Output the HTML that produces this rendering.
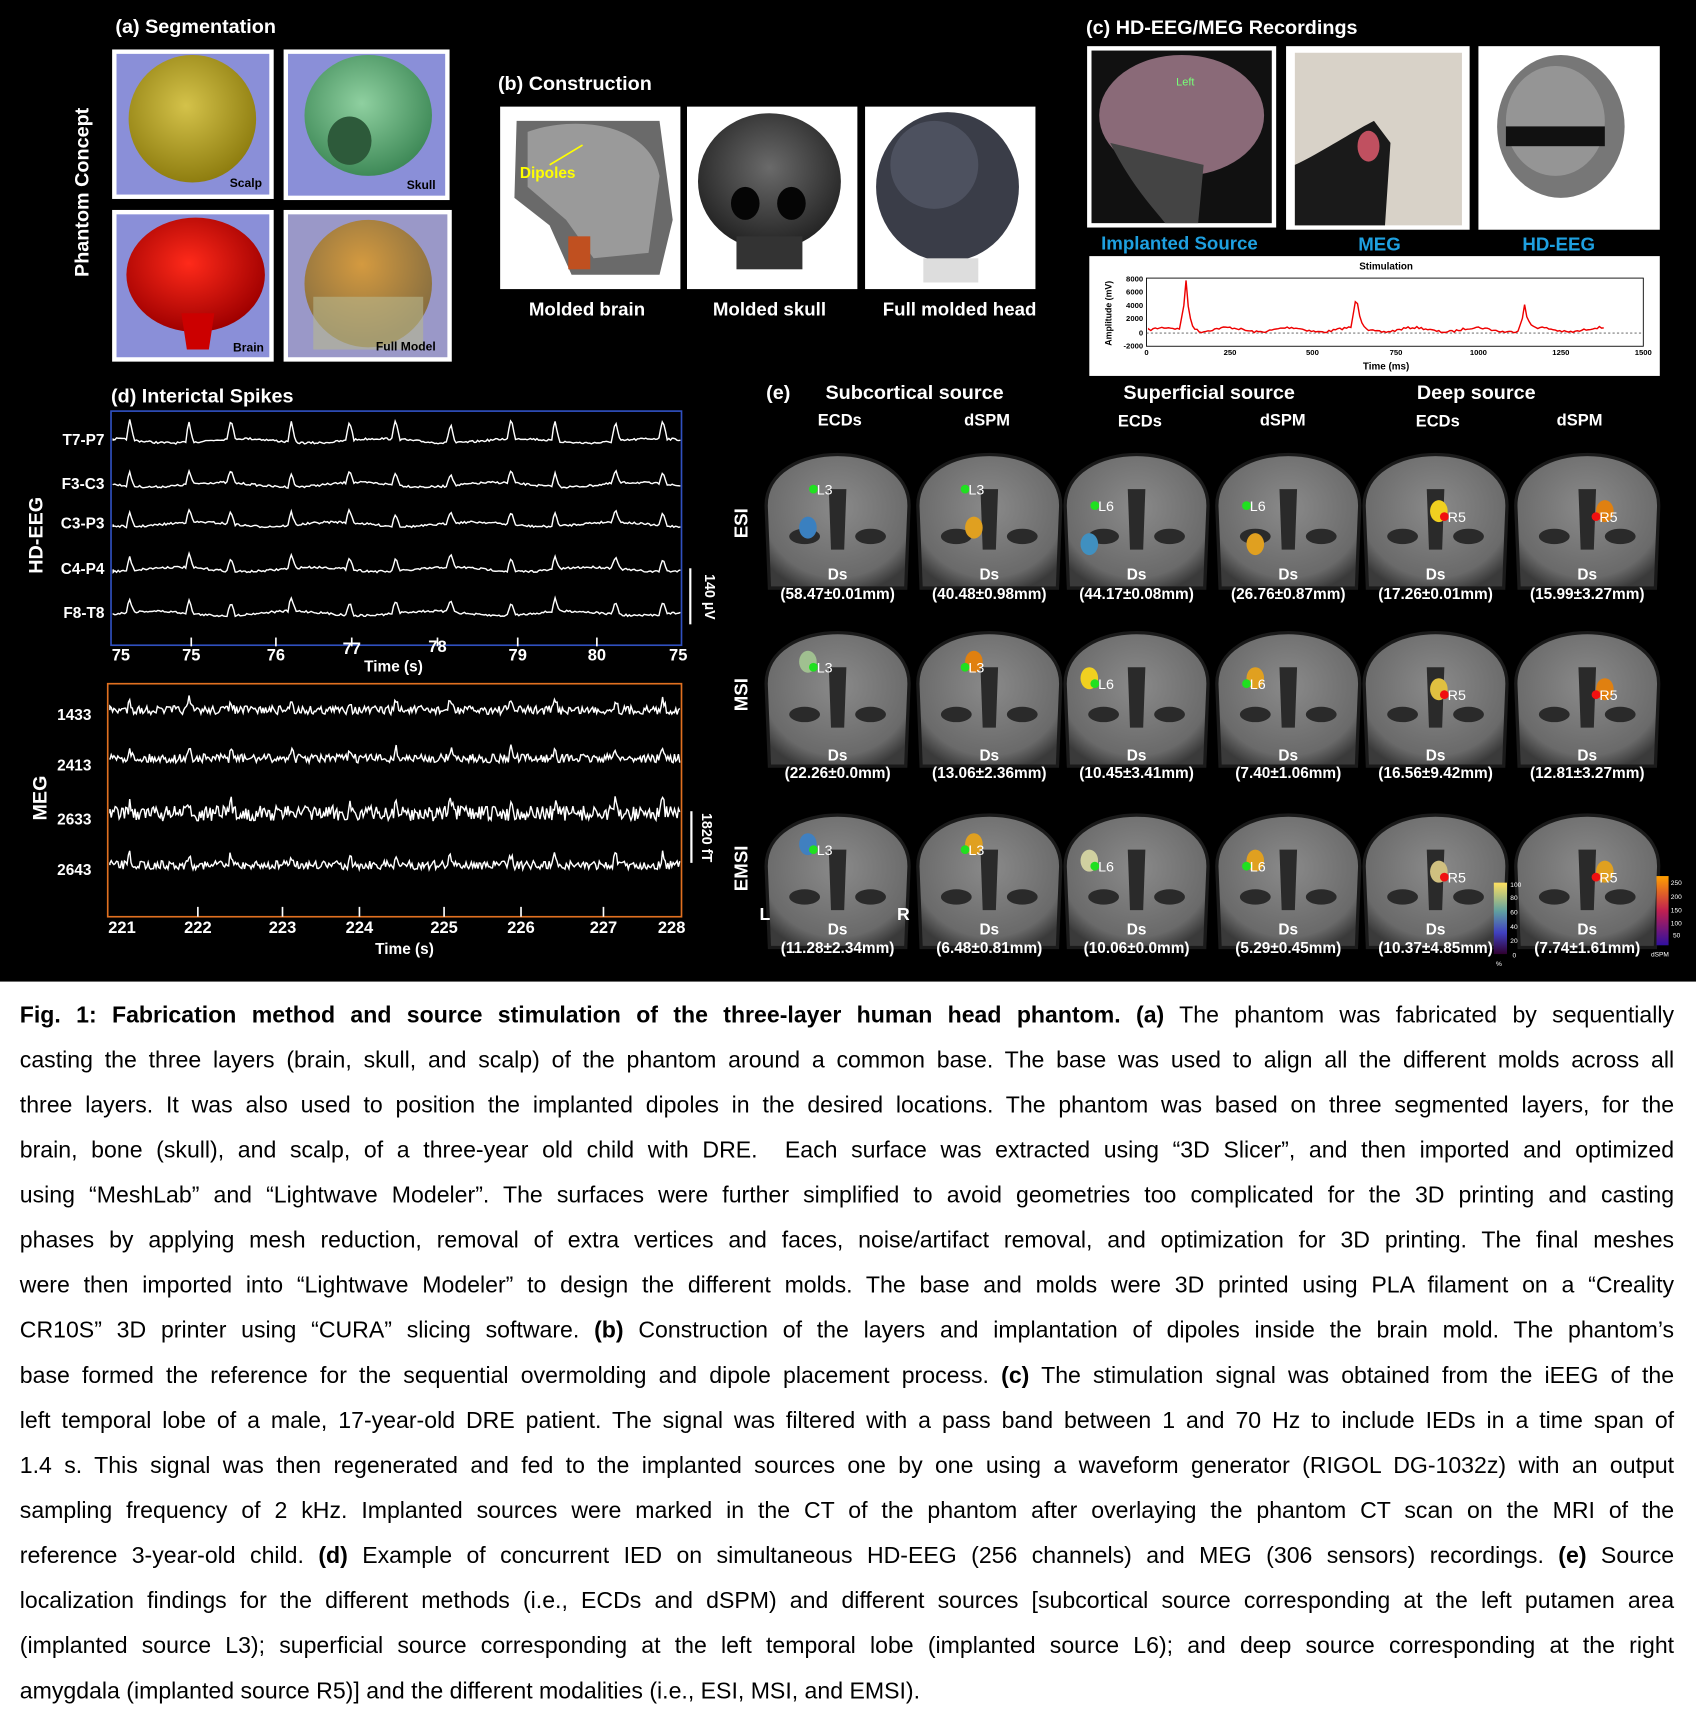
<!DOCTYPE html>
<html><head><meta charset="utf-8">
<style>
html,body{margin:0;padding:0;background:#fff;}
body{width:1696px;height:1723px;overflow:hidden;position:relative;}
#w{position:absolute;left:0;top:0;width:1543px;height:1568px;transform:scale(1.0992);transform-origin:0 0;font-family:"Liberation Sans",Arial,sans-serif;}
#blk{position:absolute;left:0;top:0;width:1543px;height:893px;background:#000;}
.t{position:absolute;color:#fff;font-weight:bold;white-space:nowrap;}
.c{transform:translateX(-50%);}
.cap{position:absolute;left:18px;top:903px;width:1505px;font-size:21px;color:#000;}
.cap div{height:41px;line-height:41px;text-align:justify;text-align-last:justify;white-space:nowrap;}
.cap div.l{text-align-last:left;}
</style></head><body>
<div id="w">
<div id="blk"></div>
<svg id="sv" width="1543" height="893" style="position:absolute;left:0;top:0">
<defs>
<radialGradient id="sc" cx="45%" cy="40%" r="60%"><stop offset="0" stop-color="#d4c24a"/><stop offset="1" stop-color="#8f7e10"/></radialGradient>
<radialGradient id="sk" cx="45%" cy="40%" r="60%"><stop offset="0" stop-color="#8fd0a0"/><stop offset="1" stop-color="#3f8a58"/></radialGradient>
<radialGradient id="br" cx="45%" cy="40%" r="60%"><stop offset="0" stop-color="#ff2a1a"/><stop offset="1" stop-color="#a00000"/></radialGradient>
<radialGradient id="fm" cx="45%" cy="35%" r="60%"><stop offset="0" stop-color="#d49a40"/><stop offset="1" stop-color="#8a7040"/></radialGradient>
<radialGradient id="gr" cx="50%" cy="40%" r="60%"><stop offset="0" stop-color="#6a6a6a"/><stop offset="1" stop-color="#222"/></radialGradient>
<radialGradient id="mrigrad" cx="50%" cy="40%" r="65%"><stop offset="0" stop-color="#8a8a8a"/><stop offset="0.8" stop-color="#6a6a6a"/><stop offset="1" stop-color="#3a3a3a"/></radialGradient>
<linearGradient id="cb1" x1="0" y1="0" x2="0" y2="1"><stop offset="0" stop-color="#ffe060"/><stop offset="0.4" stop-color="#60a0a0"/><stop offset="0.7" stop-color="#4040c0"/><stop offset="1" stop-color="#300030"/></linearGradient>
<linearGradient id="cb2" x1="0" y1="0" x2="0" y2="1"><stop offset="0" stop-color="#ffa000"/><stop offset="0.5" stop-color="#c02050"/><stop offset="1" stop-color="#3010a0"/></linearGradient>
</defs>
<rect x="102" y="45" width="147" height="136" fill="#fff"/><rect x="106" y="49" width="139" height="128" fill="#8a8fd8"/>
<ellipse cx="175" cy="108" rx="58" ry="58" fill="url(#sc)"/>
<rect x="258" y="45" width="151" height="137" fill="#fff"/><rect x="262" y="49" width="143" height="129" fill="#8a8fd8"/>
<ellipse cx="335" cy="105" rx="58" ry="55" fill="url(#sk)"/><ellipse cx="318" cy="128" rx="20" ry="22" fill="#2d5a3a"/>
<rect x="102" y="191" width="147" height="138" fill="#fff"/><rect x="106" y="195" width="139" height="130" fill="#8a8fd8"/>
<ellipse cx="178" cy="250" rx="63" ry="52" fill="url(#br)"/><path d="M165 285 L195 285 L190 318 L170 318Z" fill="#c00"/>
<rect x="258" y="191" width="153" height="138" fill="#fff"/><rect x="262" y="195" width="145" height="130" fill="#9a98c8"/>
<ellipse cx="335" cy="258" rx="58" ry="58" fill="url(#fm)"/><rect x="285" y="270" width="100" height="48" fill="#b8b890" opacity="0.6"/>
<rect x="455" y="97" width="164" height="166" fill="#fff"/>
<path d="M470 110 L600 110 L612 200 L600 250 L520 250 L500 205 L468 180Z" fill="#6a6a6a"/>
<path d="M480 120 C520 105 590 110 600 160 L590 230 L540 235 L515 200 L480 170Z" fill="#9a9a9a"/>
<rect x="517" y="215" width="20" height="30" fill="#c05020"/>
<rect x="625" y="97" width="155" height="166" fill="#fff"/>
<ellipse cx="700" cy="165" rx="65" ry="62" fill="url(#gr)"/><ellipse cx="678" cy="185" rx="13" ry="15" fill="#050505"/><ellipse cx="720" cy="185" rx="13" ry="15" fill="#050505"/><rect x="670" y="215" width="60" height="30" fill="#333"/>
<rect x="787" y="97" width="155" height="166" fill="#fff"/>
<ellipse cx="862" cy="170" rx="65" ry="68" fill="#3a3d48"/><ellipse cx="850" cy="150" rx="40" ry="40" fill="#5a5f70" opacity="0.6"/><rect x="840" y="235" width="50" height="22" fill="#ddd"/>
<text x="473" y="162" fill="#ffff00" font-family="Liberation Sans" font-weight="bold" font-size="14">Dipoles</text>
<line x1="500" y1="150" x2="530" y2="132" stroke="#ffff00" stroke-width="1.5"/>
<rect x="989" y="42" width="172" height="165" fill="#fff"/><rect x="993" y="46" width="164" height="157" fill="#111"/>
<ellipse cx="1075" cy="105" rx="75" ry="55" fill="#8a6a78"/><path d="M1010 130 C1030 170 1050 190 1060 203 L1090 203 L1095 150Z" fill="#444"/>
<text x="1070" y="78" fill="#7f7" font-size="10" font-family="Liberation Sans">Left</text>
<rect x="1170" y="42" width="167" height="167" fill="#fff"/><rect x="1178" y="48" width="152" height="157" fill="#d8d2c8"/>
<path d="M1178 205 L1178 150 C1200 140 1230 120 1250 110 L1265 130 L1260 205Z" fill="#1a1a1a"/><ellipse cx="1245" cy="133" rx="10" ry="14" fill="#c05060"/>
<rect x="1345" y="42" width="165" height="167" fill="#fff"/>
<ellipse cx="1420" cy="115" rx="58" ry="65" fill="#777"/><ellipse cx="1415" cy="110" rx="45" ry="50" fill="#aaa" opacity="0.6"/><rect x="1370" y="115" width="90" height="18" fill="#111"/>
<text x="1073" y="227" text-anchor="middle" fill="#1ea0e0" font-size="17" font-weight="bold" font-family="Liberation Sans">Implanted Source</text>
<text x="1255" y="228" text-anchor="middle" fill="#1ea0e0" font-size="17" font-weight="bold" font-family="Liberation Sans">MEG</text>
<text x="1418" y="228" text-anchor="middle" fill="#1ea0e0" font-size="17" font-weight="bold" font-family="Liberation Sans">HD-EEG</text>
<rect x="991" y="233" width="519" height="109" fill="#fff"/>
<rect x="1043" y="253" width="452" height="62" fill="none" stroke="#000" stroke-width="0.8"/>
<line x1="1043" y1="303" x2="1495" y2="303" stroke="#555" stroke-dasharray="2,2" stroke-width="0.7"/>
<text x="1261" y="245" text-anchor="middle" font-size="9" font-weight="bold" font-family="Liberation Sans">Stimulation</text>
<g font-size="7" font-family="Liberation Sans" font-weight="bold" text-anchor="end"><text x="1040" y="256">8000</text><text x="1040" y="268">6000</text><text x="1040" y="280">4000</text><text x="1040" y="292">2000</text><text x="1040" y="305">0</text><text x="1040" y="317">-2000</text></g>
<g font-size="7" font-family="Liberation Sans" font-weight="bold" text-anchor="middle"><text x="1043" y="323">0</text><text x="1119" y="323">250</text><text x="1194" y="323">500</text><text x="1270" y="323">750</text><text x="1345" y="323">1000</text><text x="1420" y="323">1250</text><text x="1495" y="323">1500</text></g>
<text x="1261" y="336" text-anchor="middle" font-size="9" font-weight="bold" font-family="Liberation Sans">Time (ms)</text>
<text transform="translate(1011,285) rotate(-90)" text-anchor="middle" font-size="8" font-weight="bold" font-family="Liberation Sans">Amplitude (mV)</text>
<path id="stim" fill="none" stroke="#e00" stroke-width="1.3"/>
<rect x="101" y="374" width="519" height="213" fill="none" stroke="#3050c0" stroke-width="1.5"/>
<rect x="98" y="622" width="522" height="212" fill="none" stroke="#e07020" stroke-width="1.5"/>
<g id="eeg" fill="none" stroke="#fff" stroke-width="1.3"></g>
<line x1="628" y1="517" x2="628" y2="568" stroke="#fff" stroke-width="2"/>
<line x1="629" y1="738" x2="629" y2="785" stroke="#fff" stroke-width="2"/>
<g id="ticks" stroke="#fff" stroke-width="1.5"></g>
<g id="mrig"></g>
<rect x="1359" y="803" width="12" height="65" fill="url(#cb1)"/>
<rect x="1507" y="797" width="11" height="63" fill="url(#cb2)"/>
<g fill="#fff" font-size="6" font-family="Liberation Sans"><text x="1374" y="807">100</text><text x="1374" y="819">80</text><text x="1374" y="832">60</text><text x="1374" y="845">40</text><text x="1374" y="858">20</text><text x="1376" y="871">0</text><text x="1361" y="879">%</text>
<text x="1520" y="805">250</text><text x="1520" y="818">200</text><text x="1520" y="830">150</text><text x="1520" y="842">100</text><text x="1522" y="853">50</text><text x="1502" y="870">dSPM</text></g>
</svg>

<div class="t" style="left:105px;top:14px;font-size:18px">(a) Segmentation</div>
<div class="t" style="left:75px;top:175px;font-size:18px;transform:translate(-50%,-50%) rotate(-90deg)">Phantom Concept</div>
<div class="t" style="left:209px;top:161px;font-size:11px;color:#000">Scalp</div>
<div class="t" style="left:370px;top:163px;font-size:11px;color:#000">Skull</div>
<div class="t" style="left:212px;top:311px;font-size:11px;color:#000">Brain</div>
<div class="t" style="left:342px;top:310px;font-size:11px;color:#000">Full Model</div>
<div class="t" style="left:453px;top:66px;font-size:18px">(b) Construction</div>
<div class="t c" style="left:534px;top:272px;font-size:17px">Molded brain</div>
<div class="t c" style="left:700px;top:272px;font-size:17px">Molded skull</div>
<div class="t c" style="left:873px;top:272px;font-size:17px">Full molded head</div>
<div class="t" style="left:988px;top:15px;font-size:18px">(c) HD-EEG/MEG Recordings</div>
<div class="t" style="left:101px;top:350px;font-size:18px">(d) Interictal Spikes</div>
<div class="t" style="left:33px;top:487px;font-size:18px;transform:translate(-50%,-50%) rotate(-90deg)">HD-EEG</div>
<div class="t" style="left:37px;top:726px;font-size:18px;transform:translate(-50%,-50%) rotate(-90deg)">MEG</div>
<div class="t" style="right:1448px;top:392px;font-size:14px">T7-P7</div>
<div class="t" style="right:1448px;top:432px;font-size:14px">F3-C3</div>
<div class="t" style="right:1448px;top:468px;font-size:14px">C3-P3</div>
<div class="t" style="right:1448px;top:509px;font-size:14px">C4-P4</div>
<div class="t" style="right:1448px;top:549px;font-size:14px">F8-T8</div>
<div class="t" style="left:646px;top:543px;font-size:13px;transform:translate(-50%,-50%) rotate(90deg)">140 µV</div>
<div class="t" style="left:643px;top:762px;font-size:13px;transform:translate(-50%,-50%) rotate(90deg)">1820 fT</div>
<div class="t" style="left:52px;top:642px;font-size:14px">1433</div>
<div class="t" style="left:52px;top:688px;font-size:14px">2413</div>
<div class="t" style="left:52px;top:737px;font-size:14px">2633</div>
<div class="t" style="left:52px;top:783px;font-size:14px">2643</div>
<div id="xl"></div>
<div class="t c" style="left:358px;top:598px;font-size:14px">Time (s)</div>
<div class="t c" style="left:368px;top:855px;font-size:14px">Time (s)</div>
<div class="t" style="left:697px;top:347px;font-size:18px">(e)</div>
<div class="t c" style="left:832px;top:347px;font-size:18px">Subcortical source</div>
<div class="t c" style="left:1100px;top:347px;font-size:18px">Superficial source</div>
<div class="t c" style="left:1343px;top:347px;font-size:18px">Deep source</div>
<div class="t c" style="left:764px;top:374px;font-size:15px">ECDs</div>
<div class="t c" style="left:898px;top:374px;font-size:15px">dSPM</div>
<div class="t c" style="left:1037px;top:375px;font-size:15px">ECDs</div>
<div class="t c" style="left:1167px;top:374px;font-size:15px">dSPM</div>
<div class="t c" style="left:1308px;top:375px;font-size:15px">ECDs</div>
<div class="t c" style="left:1437px;top:374px;font-size:15px">dSPM</div>
<div class="t" style="left:675px;top:476px;font-size:17px;transform:translate(-50%,-50%) rotate(-90deg)">ESI</div>
<div class="t" style="left:675px;top:632px;font-size:17px;transform:translate(-50%,-50%) rotate(-90deg)">MSI</div>
<div class="t" style="left:675px;top:790px;font-size:17px;transform:translate(-50%,-50%) rotate(-90deg)">EMSI</div>
<div class="t" style="left:691px;top:824px;font-size:16px">L</div>
<div class="t" style="left:816px;top:824px;font-size:16px">R</div>
<div id="ds"></div>

<div class="cap">
<div><b>Fig. 1: Fabrication method and source stimulation of the three-layer human head phantom. (a)</b> The phantom was fabricated by sequentially</div>
<div>casting the three layers (brain, skull, and scalp) of the phantom around a common base. The base was used to align all the different molds across all</div>
<div>three layers. It was also used to position the implanted dipoles in the desired locations. The phantom was based on three segmented layers, for the</div>
<div>brain, bone (skull), and scalp, of a three-year old child with DRE.&nbsp; Each surface was extracted using “3D Slicer”, and then imported and optimized</div>
<div>using “MeshLab” and “Lightwave Modeler”. The surfaces were further simplified to avoid geometries too complicated for the 3D printing and casting</div>
<div>phases by applying mesh reduction, removal of extra vertices and faces, noise/artifact removal, and optimization for 3D printing. The final meshes</div>
<div>were then imported into “Lightwave Modeler” to design the different molds. The base and molds were 3D printed using PLA filament on a “Creality</div>
<div>CR10S” 3D printer using “CURA” slicing software. <b>(b)</b> Construction of the layers and implantation of dipoles inside the brain mold. The phantom’s</div>
<div>base formed the reference for the sequential overmolding and dipole placement process. <b>(c)</b> The stimulation signal was obtained from the iEEG of the</div>
<div>left temporal lobe of a male, 17-year-old DRE patient. The signal was filtered with a pass band between 1 and 70 Hz to include IEDs in a time span of</div>
<div>1.4 s. This signal was then regenerated and fed to the implanted sources one by one using a waveform generator (RIGOL DG-1032z) with an output</div>
<div>sampling frequency of 2 kHz. Implanted sources were marked in the CT of the phantom after overlaying the phantom CT scan on the MRI of the</div>
<div>reference 3-year-old child. <b>(d)</b> Example of concurrent IED on simultaneous HD-EEG (256 channels) and MEG (306 sensors) recordings. <b>(e)</b> Source</div>
<div>localization findings for the different methods (i.e., ECDs and dSPM) and different sources [subcortical source corresponding at the left putamen area</div>
<div>(implanted source L3); superficial source corresponding at the left temporal lobe (implanted source L6); and deep source corresponding at the right</div>
<div class="l">amygdala (implanted source R5)] and the different modalities (i.e., ESI, MSI, and EMSI).</div>
</div>
</div>
<script>
var NS="http://www.w3.org/2000/svg";
function el(t,a,p){var e=document.createElementNS(NS,t);for(var k in a)e.setAttribute(k,a[k]);(p||document.getElementById('sv')).appendChild(e);return e;}
var seed=7;function rnd(){seed=(seed*16807)%2147483647;return seed/2147483647;}
var d="M1045 300";
for(var x=1045;x<=1460;x+=2){var y=300+Math.sin(x/9)*2+(rnd()-0.5)*2;
[[1078,45],[1233,32],[1386,22]].forEach(function(s){var dx=x-s[0];if(dx>-4&&dx<12)y-=s[1]*Math.exp(-Math.abs(dx-1)/3);});
d+=" L"+x+" "+y.toFixed(1);}
document.getElementById('stim').setAttribute('d',d);
var g=document.getElementById('eeg');
var sp=[118,172,210,265,318,360,410,465,505,560,603];
[401,441,477,518,558].forEach(function(b,i){var d="M103 "+b;var amp=i==0?18:12;
for(var x=103;x<=619;x+=1.5){var y=b+Math.sin(x/20+i)*2+(rnd()-0.5)*2;
sp.forEach(function(s){var dx=x-s;if(dx>-3&&dx<4)y-=amp*(1-Math.abs(dx)/4);});
d+=" L"+x.toFixed(1)+" "+y.toFixed(1);}
el('path',{d:d},g);});
[646,690,740,787].forEach(function(b,i){var d="M100 "+b;var n=i==2?14:8;
for(var x=100;x<=619;x+=1.2){var y=b+(rnd()-0.5)*n;
sp.forEach(function(s){var dx=x-s;if(dx>-2&&dx<3)y-=10*(1-Math.abs(dx)/3);});
d+=" L"+x.toFixed(1)+" "+y.toFixed(1);}
el('path',{d:d},g);});
var tg=document.getElementById('ticks');var xl=document.getElementById('xl');
[[110,'75'],[174,'75'],[251,'76'],[320,'77'],[398,'78'],[471,'79'],[543,'80'],[617,'75']].forEach(function(t,i){
 if(i>0&&i<7)el('line',{x1:t[0],y1:580,x2:t[0],y2:588},tg);
 var y=i==3?582:(i==4?580:588);
 xl.innerHTML+='<div class="t c" style="left:'+t[0]+'px;top:'+y+'px;font-size:15px">'+t[1]+'</div>';});
[[111,'221'],[180,'222'],[257,'223'],[327,'224'],[404,'225'],[474,'226'],[549,'227'],[611,'228']].forEach(function(t,i){
 if(i>0&&i<7)el('line',{x1:t[0],y1:825,x2:t[0],y2:834},tg);
 xl.innerHTML+='<div class="t c" style="left:'+t[0]+'px;top:836px;font-size:15px">'+t[1]+'</div>';});
var mg=document.getElementById('mrig');
var cx=[762,900,1034,1172,1306,1444],rows=[[400,535],[562,697],[728,862]];
var ds=[["58.47±0.01mm","40.48±0.98mm","44.17±0.08mm","26.76±0.87mm","17.26±0.01mm","15.99±3.27mm"],
["22.26±0.0mm","13.06±2.36mm","10.45±3.41mm","7.40±1.06mm","16.56±9.42mm","12.81±3.27mm"],
["11.28±2.34mm","6.48±0.81mm","10.06±0.0mm","5.29±0.45mm","10.37±4.85mm","7.74±1.61mm"]];
var lab=['L3','L3','L6','L6','R5','R5'];
var dsy=[[514,532],[679,695],[837,854]];
var dv=document.getElementById('ds');
rows.forEach(function(r,ri){cx.forEach(function(c,ci){
 var t=r[0],b=r[1];
 el('path',{d:"M"+(c-62)+" "+b+" L"+(c-65)+" "+(t+60)+" C"+(c-65)+" "+(t-2)+" "+(c+65)+" "+(t-2)+" "+(c+65)+" "+(t+60)+" L"+(c+62)+" "+b+"Z",fill:"url(#mrigrad)",stroke:"#1a1a1a","stroke-width":3},mg);
 el('path',{d:"M"+(c-8)+" "+(t+45)+" L"+(c+8)+" "+(t+45)+" L"+(c+6)+" "+(t+100)+" L"+(c-6)+" "+(t+100)+"Z",fill:"#2a2a2a"},mg);
 el('ellipse',{cx:c-30,cy:t+88,rx:14,ry:7,fill:"#2a2a2a"},mg);el('ellipse',{cx:c+30,cy:t+88,rx:14,ry:7,fill:"#2a2a2a"},mg);
 var px=ci<2?c-22:(ci<4?c-38:c+8),py=ci<2?t+45:(ci<4?t+60:t+70);
 var col=[["#3a80c0","#e0a020","#4090c0","#e0a020","#f0d020","#e08010"],["#a0c090","#e08010","#f0d020","#e0a020","#e0c040","#e08010"],["#4080c0","#e0a020","#d0d0a0","#e0a020","#d0c080","#e0a020"]][ri][ci];
 el('ellipse',{cx:ci%2==0?px-5:px+8,cy:py+(ri==0&&ci<4?35:-5),rx:8,ry:10,fill:col},mg);
 el('circle',{cx:px,cy:py,r:4,fill:ci>=4?"#f01010":"#20e020"},mg);
 el('text',{x:px+3,y:py+5,fill:"#fff","font-size":13,"font-family":"Liberation Sans"},mg).textContent=lab[ci];
 dv.innerHTML+='<div class="t c" style="left:'+c+'px;top:'+dsy[ri][0]+'px;font-size:14px">Ds</div><div class="t c" style="left:'+c+'px;top:'+dsy[ri][1]+'px;font-size:14px">('+ds[ri][ci]+')</div>';
});});
</script>
</body></html>
